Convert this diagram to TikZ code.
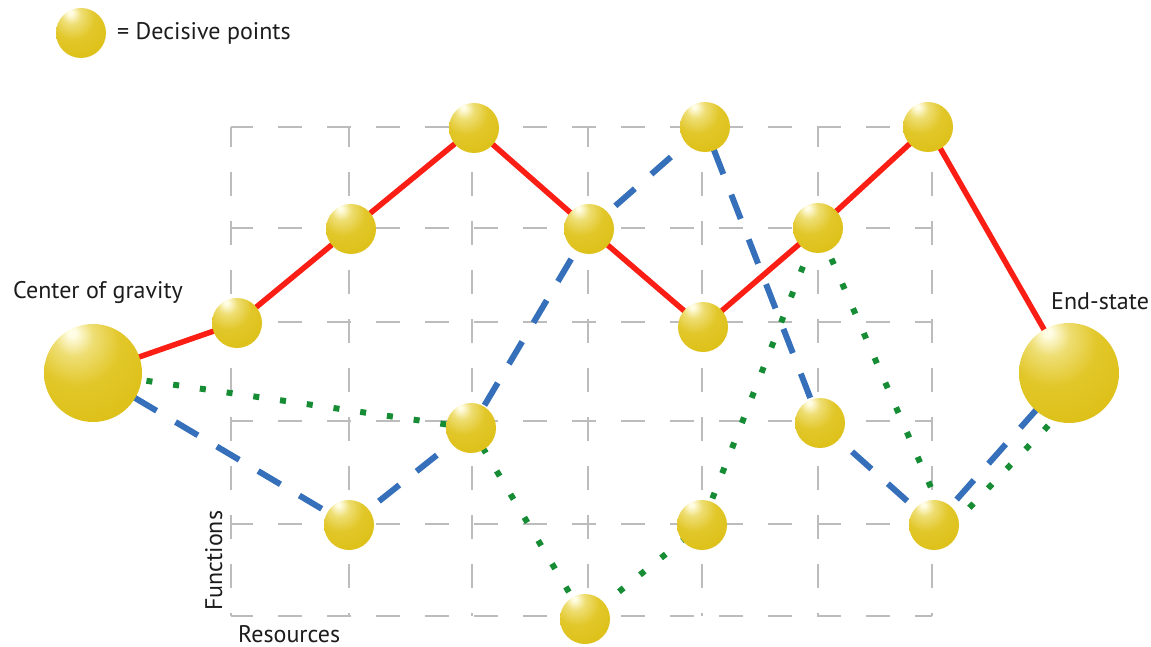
\documentclass[tikz,border=0pt]{standalone}
\usepackage{fontspec}
\setmainfont{PT Sans}
\usetikzlibrary{backgrounds}
\definecolor{gHi}{RGB}{255,253,228}
\definecolor{gLight}{RGB}{238,222,115}
\definecolor{gBody}{RGB}{226,199,42}
\definecolor{gDeep}{RGB}{219,189,16}
\definecolor{gEdge}{RGB}{212,182,6}
\definecolor{redC}{RGB}{250,30,20}
\definecolor{blueC}{RGB}{54,112,186}
\definecolor{greenC}{RGB}{22,140,52}
\definecolor{gridC}{RGB}{188,188,188}
\definecolor{txtC}{RGB}{28,28,28}
\pgfdeclareradialshading{goldball}{\pgfpoint{-11bp}{21bp}}{color(0bp)=(gHi); color(2bp)=(gHi); color(10bp)=(gLight); color(22bp)=(gBody); color(45bp)=(gDeep); color(85bp)=(gEdge)}
\tikzset{
  ball/.style={circle, inner sep=0pt, minimum size=50pt, shading=goldball, draw=none},
  bigball/.style={ball, minimum size=100pt},
  lbl/.style={inner sep=0pt, text=txtC, font=\fontsize{24}{29}\selectfont},
  gridline/.style={gridC, line width=1.3pt, dash pattern=on 24pt off 25pt},
  redline/.style={redC, line width=5.5pt, line join=round},
  blueline/.style={blueC, line width=6pt, dash pattern=on 26pt off 22pt},
  greenline/.style={greenC, line width=6pt, dash pattern=on 6pt off 21pt}
}
\begin{document}
\begin{tikzpicture}[x=1pt, y=-1pt]
\useasboundingbox (0,0) rectangle (1151,647);
% legend
\node[ball] (leg) at (81,33) {};
\node[lbl, anchor=base west] (legt) at (117,40) {= Decisive points};
% labels
\node[lbl, anchor=base west] (cogt) at (13,298) {Center of gravity};
\node[lbl, anchor=base west] (endt) at (1051,309) {End-state};
\node[lbl, anchor=base west, rotate=90] (funt) at (222,611) {Functions};
\node[lbl, anchor=base west] (rest) at (238,642) {Resources};
% balls
\node[bigball, minimum size=98pt] (cog) at (93,373) {};
\node[bigball] (end) at (1069,373) {};
\node[ball] (r1) at (237,323) {};
\node[ball] (r2) at (351,229) {};
\node[ball] (r3) at (474,128) {};
\node[ball] (r4) at (589,229) {};
\node[ball] (r5) at (703,327) {};
\node[ball] (r6) at (818,228) {};
\node[ball] (r7) at (928,127) {};
\node[ball] (b1) at (349,525) {};
\node[ball] (m1) at (471,428) {};
\node[ball] (b4) at (705,127) {};
\node[ball] (b5) at (820,423) {};
\node[ball] (b6) at (934,525) {};
\node[ball] (g2) at (585,619) {};
\node[ball] (g3) at (702,525) {};
\coordinate (g6) at (949,529);
\coordinate (g7) at (1070,403);
\begin{scope}[on background layer]
  \foreach \x in {231,349,472,588,702,818,932}
    \draw[gridline, dash phase=4pt] (\x,127) -- (\x,616);
  \foreach \y in {127,228,322,421,524,616}
    \draw[gridline, dash phase=2pt] (231,\y) -- (932,\y);
  \draw[greenline] (cog.center) -- (m1.center) -- (g2.center) -- (g3.center) -- (r6.center) -- (g6) -- (g7);
  \draw[blueline] (cog.center) -- (b1.center) -- (m1.center) -- (r4.center) -- (b4.center) -- (b5.center) -- (b6.center) -- (end.center);
  \draw[redline] (cog.center) -- (r1.center) -- (r2.center) -- (r3.center) -- (r4.center) -- (r5.center) -- (r6.center) -- (r7.center) -- (end.center);
\end{scope}
\end{tikzpicture}
\end{document}
